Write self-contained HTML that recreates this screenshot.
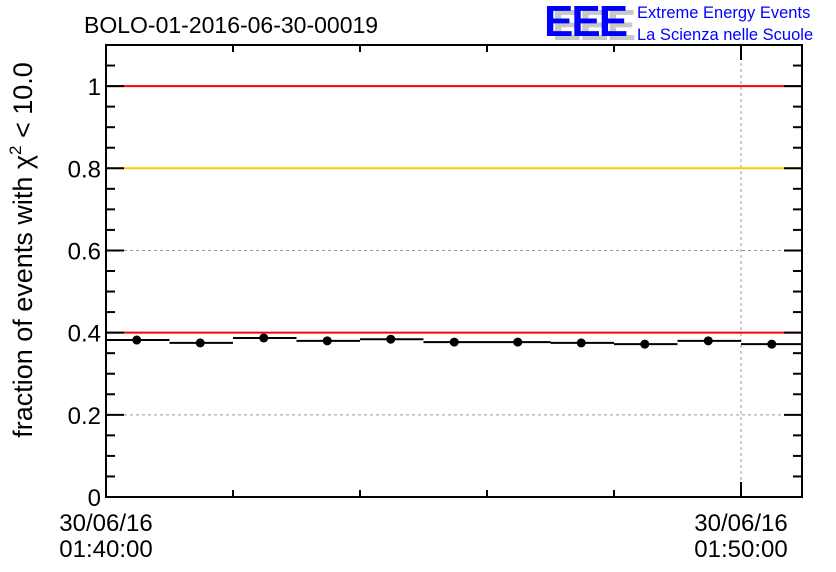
<!DOCTYPE html>
<html><head><meta charset="utf-8"><style>
body{margin:0;background:#fff;}
svg{display:block;font-family:"Liberation Sans",sans-serif;}
</style></head><body>
<svg id="c" width="836" height="572" viewBox="0 0 836 572">
<defs><clipPath id="pc"><rect x="106" y="45" width="696" height="452"/></clipPath></defs>
<text x="84" y="33" font-size="23">BOLO-01-2016-06-30-00019</text>
<g>
<text x="552" y="40" font-size="44" font-weight="bold" fill="#c8c8c8" letter-spacing="-2">EEE</text>
<text x="544" y="36" font-size="44" font-weight="bold" fill="#0000ff" letter-spacing="-2">EEE</text>
<text x="637" y="18" font-size="16.5" fill="#0000ff">Extreme Energy Events</text>
<text x="637" y="40" font-size="16.5" fill="#0000ff">La Scienza nelle Scuole</text>
</g>
<text transform="translate(32,250) rotate(-90)" text-anchor="middle" font-size="27">fraction of events with χ<tspan dy="-11" font-size="17">2</tspan><tspan dy="11"> &lt; 10.0</tspan></text>
<g id="g"></g>
</svg>
<script>
const values=[0.382,0.375,0.387,0.380,0.384,0.377,0.377,0.375,0.372,0.380,0.372];
const yTicks=[0,0.2,0.4,0.6,0.8,1];
const yTickLabels=["0","0.2","0.4","0.6","0.8","1"];
const xTickLabels=[["30/06/16","01:40:00"],["30/06/16","01:50:00"]];
const xTickMinutes=[0,10];
const L=106,R=802,T=45,B=497,YMAX=1.1;
const y=v=>B-(v/YMAX)*(B-T);
const x=m=>L+m*63.5;
const g=document.getElementById('g');
const NS='http://www.w3.org/2000/svg';
function el(t,a,p){const e=document.createElementNS(NS,t);for(const k in a)e.setAttribute(k,a[k]);(p||g).appendChild(e);return e;}
let e;
[0.2,0.6].forEach(v=>{e=el('line',{x1:L,x2:R,y1:y(v),y2:y(v),stroke:'#999','stroke-dasharray':'3,3'});

});
[0,10].forEach(m=>{e=el('line',{x1:x(m),x2:x(m),y1:T,y2:B,stroke:'#999','stroke-dasharray':'3,3'});

});
[[1,'#ff0000'],[0.8,'#ffcc00'],[0.4,'#ff0000']].forEach(([v,c])=>{e=el('line',{x1:L,x2:R,y1:y(v),y2:y(v),stroke:c,'stroke-width':2});

});
const dg=el('g',{'clip-path':'url(#pc)'});
values.forEach((v,i)=>{
e=el('line',{x1:x(i),x2:x(i+1),y1:y(v),y2:y(v),stroke:'#000','stroke-width':2},dg);


e=el('circle',{cx:x(i+0.5)-1,cy:y(v),r:4.5,fill:'#000'},dg);


});
e=el('rect',{x:L,y:T,width:R-L,height:B-T,fill:'none',stroke:'#000','stroke-width':2});


for(let k=0;k<=22;k++){const v=k*0.05,len=(k%4==0)?18:9;
el('line',{x1:L,x2:L+len,y1:y(v),y2:y(v),stroke:'#000','stroke-width':2});
el('line',{x1:R,x2:R-len,y1:y(v),y2:y(v),stroke:'#000','stroke-width':2});}
yTicks.forEach((v,i)=>{e=el('text',{x:L-5,y:y(v)+9,'text-anchor':'end','font-size':24});
e.textContent=yTickLabels[i];

});
for(let m=0;m<=10;m+=2){const len=(m%10==0)?15:7;
el('line',{x1:x(m),x2:x(m),y1:B,y2:B-len,stroke:'#000','stroke-width':2});
el('line',{x1:x(m),x2:x(m),y1:T,y2:T+len,stroke:'#000','stroke-width':2});}
xTickMinutes.forEach((m,i)=>{xTickLabels[i].forEach((s,j)=>{e=el('text',{x:x(m),y:531+j*26,'text-anchor':'middle','font-size':24});
e.textContent=s;

});});
</script>
</body></html>
